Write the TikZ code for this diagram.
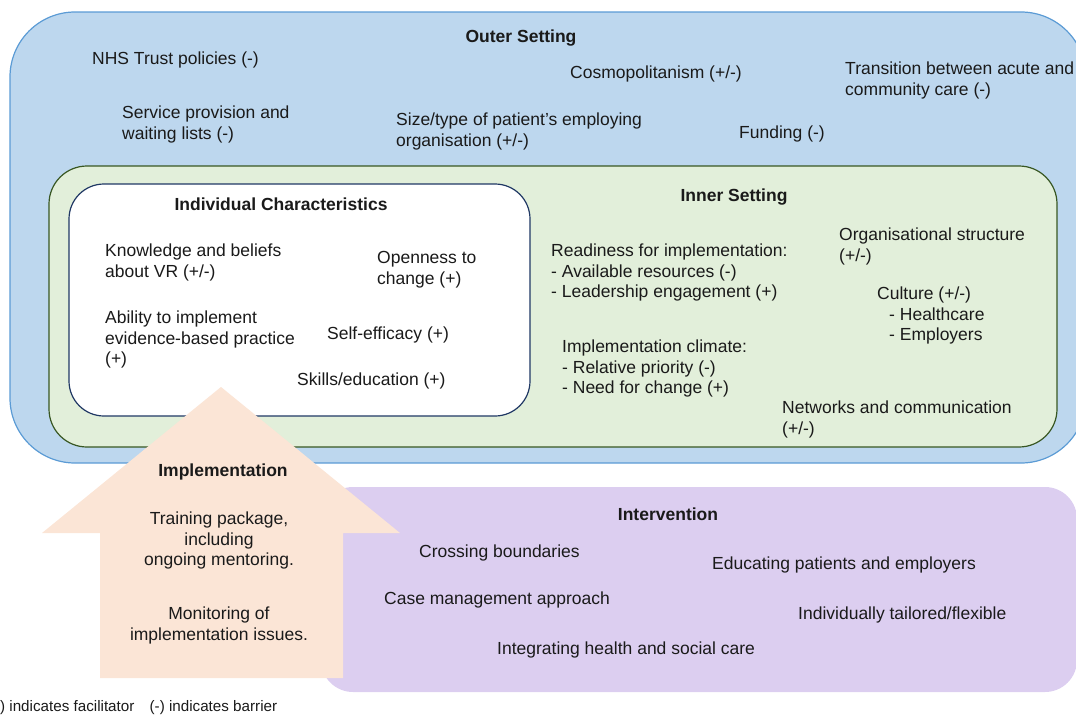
\documentclass[tikz,border=0pt]{standalone}
\usepackage{fontspec}
\setmainfont{Liberation Sans}
\definecolor{outerfill}{HTML}{BDD7EE}
\definecolor{outerdraw}{HTML}{5B9BD5}
\definecolor{innerfill}{HTML}{E2EFDA}
\definecolor{innerdraw}{HTML}{385723}
\definecolor{indivdraw}{HTML}{203864}
\definecolor{intfill}{HTML}{DCCEF0}
\definecolor{arrowfill}{HTML}{FBE5D6}
\definecolor{txtc}{HTML}{1A1A1A}
\tikzset{
  lbl/.style={anchor=north west, inner sep=0pt, align=left, text=txtc, font=\fontsize{17.5}{20.5}\selectfont},
  clbl/.style={anchor=north, inner sep=0pt, align=center, text=txtc, font=\fontsize{17.5}{20.5}\selectfont},
  ttl/.style={anchor=north, inner sep=0pt, align=center, text=txtc, font=\bfseries\fontsize{17.5}{20.5}\selectfont},
  legend/.style={anchor=north west, inner sep=0pt, text=txtc, font=\fontsize{15.2}{17.5}\selectfont},
  boxline/.style={line width=1.2pt}
}
\begin{document}
\begin{tikzpicture}[x=1pt,y=-1pt]
\useasboundingbox (0,0) rectangle (1076,715);
% boxes
\draw[boxline, draw=outerdraw, fill=outerfill, rounded corners=65pt] (10,12) rectangle (1086,463);
\draw[boxline, draw=innerdraw, fill=innerfill, rounded corners=38pt] (49,166) rectangle (1057,447);
\draw[boxline, draw=indivdraw, fill=white, rounded corners=35pt] (69,184) rectangle (530,416);
\fill[intfill, rounded corners=32pt] (321,487) rectangle (1077,692);
% implementation arrow
\fill[arrowfill] (221,387) -- (400,533) -- (343,533) -- (343,678) -- (100,678) -- (100,533) -- (42,533) -- cycle;
% outer setting
\node[ttl] (outert) at (521,28) {\strut Outer Setting};
\node[lbl] (nhs) at (92,50) {\strut NHS Trust policies (-)};
\node[lbl] (cosmo) at (570,64) {\strut Cosmopolitanism (+/-)};
\node[lbl] (trans) at (845,60) {\strut Transition between acute and\\community care (-)};
\node[lbl] (serv) at (122,104) {\strut Service provision and\\waiting lists (-)};
\node[lbl] (size) at (396,111) {\strut Size/type of patient’s employing\\organisation (+/-)};
\node[lbl] (fund) at (739,124) {\strut Funding (-)};
% inner setting
\node[ttl] (innert) at (734,187) {\strut Inner Setting};
\node[lbl] (ready) at (551,242) {\strut Readiness for implementation:\\- Available resources (-)\\- Leadership engagement (+)};
\node[lbl] (org) at (839,226) {\strut Organisational structure\\(+/-)};
\node[lbl] (cult) at (877,285) {\strut Culture (+/-)\\\hspace*{12pt}- Healthcare\\\hspace*{12pt}- Employers};
\node[lbl] (clim) at (562,338) {\strut Implementation climate:\\- Relative priority (-)\\- Need for change (+)};
\node[lbl] (netw) at (782,399) {\strut Networks and communication\\(+/-)};
% individual characteristics
\node[ttl] (indt) at (281,196) {\strut Individual Characteristics};
\node[lbl] (know) at (105,242) {\strut Knowledge and beliefs\\about VR (+/-)};
\node[lbl] (open) at (377,249) {\strut Openness to\\change (+)};
\node[lbl] (abil) at (105,309) {\strut Ability to implement\\evidence-based practice\\(+)};
\node[lbl] (self) at (327,325) {\strut Self-efficacy (+)};
\node[lbl] (skill) at (297,371) {\strut Skills/education (+)};
% implementation
\node[ttl] (implt) at (223,462) {\strut Implementation};
\node[clbl] (train) at (219,510) {\strut Training package,\\including\\ongoing mentoring.};
\node[clbl] (monit) at (219,605) {\strut Monitoring of\\implementation issues.};
% intervention
\node[ttl] (intt) at (668,506) {\strut Intervention};
\node[lbl] (cross) at (419,543) {\strut Crossing boundaries};
\node[lbl] (educ) at (712,555) {\strut Educating patients and employers};
\node[lbl] (case) at (384,590) {\strut Case management approach};
\node[lbl] (indiv) at (798,605) {\strut Individually tailored/flexible};
\node[lbl] (integ) at (497,640) {\strut Integrating health and social care};
% legend
\node[legend] (leg) at (-14,699) {\strut (+) indicates facilitator\hspace{1em}(-) indicates barrier};
\end{tikzpicture}
\end{document}
